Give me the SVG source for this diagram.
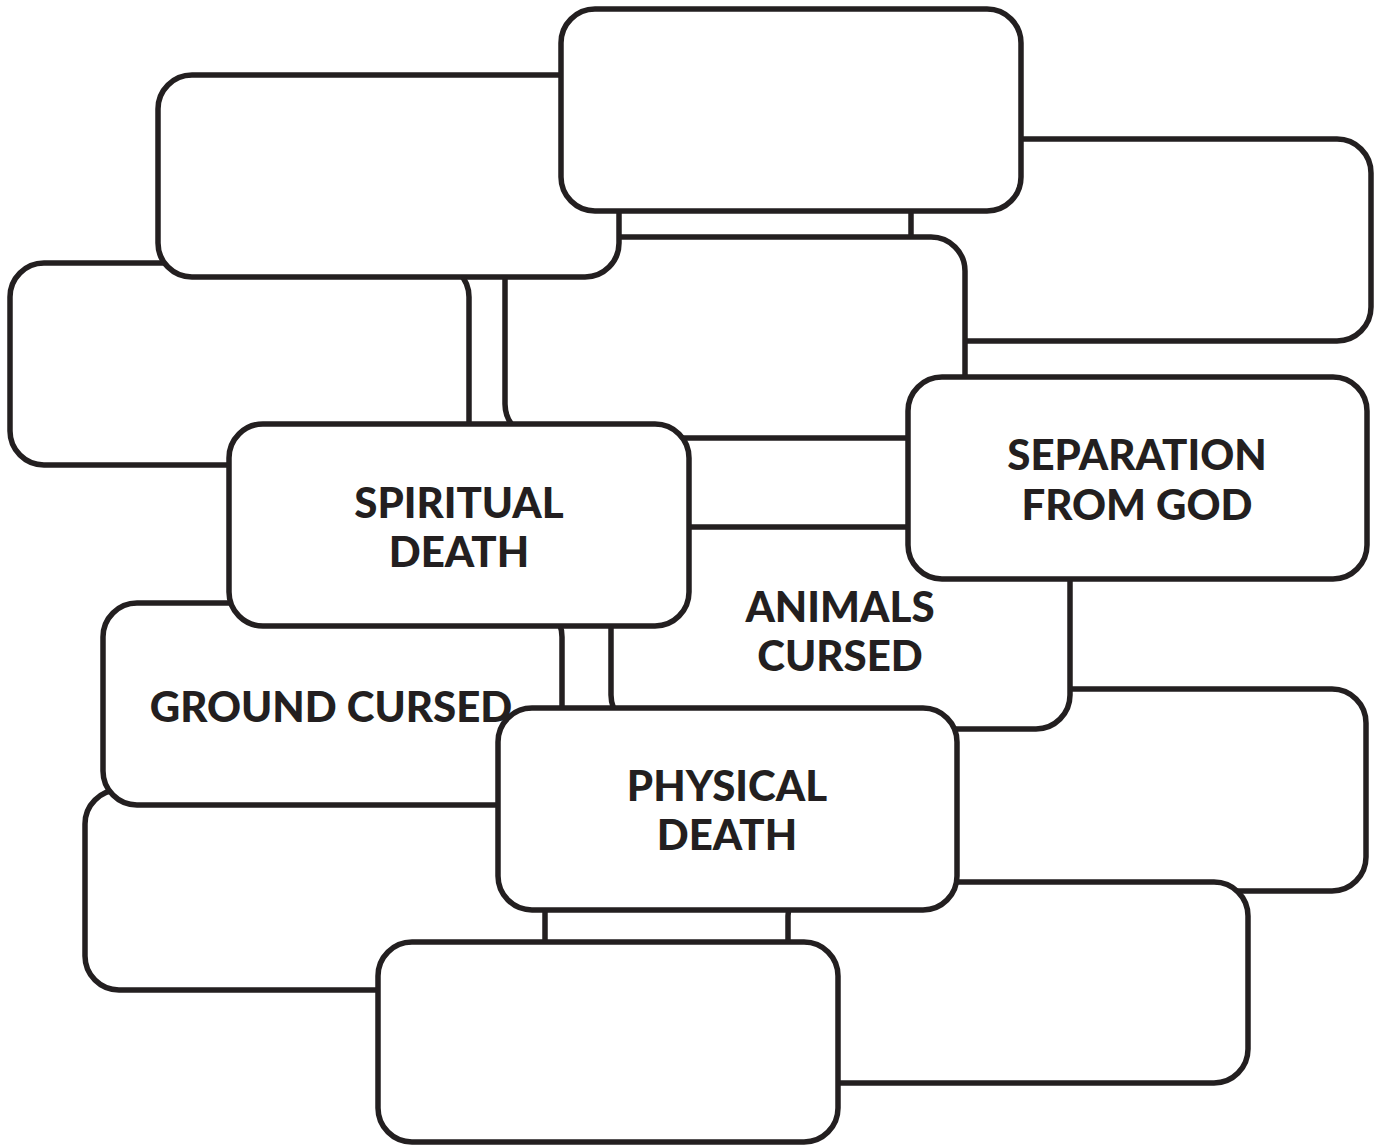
<svg xmlns="http://www.w3.org/2000/svg" width="1383" height="1145" viewBox="0 0 1383 1145">
<style>
.box{fill:#ffffff;stroke:#231f20;stroke-width:5.5}
.lbl{font-family:Lato,"Liberation Sans",sans-serif;font-weight:900;font-size:42px;fill:#231f20;text-anchor:middle}
</style>
<rect width="1383" height="1145" fill="#ffffff"/>
<g id="connectors"></g>
<g id="node-j"><rect class="box" x="911" y="139" width="460" height="202" rx="34"/></g>
<g id="node-c"><rect class="box" x="505" y="237" width="460" height="201" rx="34"/></g>
<g id="node-i"><rect class="box" x="10" y="263" width="459" height="202" rx="34"/></g>
<g id="node-b"><rect class="box" x="158" y="75" width="461" height="202" rx="34"/></g>
<g id="node-a"><rect class="box" x="561" y="9" width="460" height="202" rx="34"/></g>
<g id="node-n"><rect class="box" x="907" y="689" width="459" height="202" rx="34"/></g>
<g id="node-animals-cursed"><rect class="box" x="611" y="527" width="459" height="202" rx="34"/>
<text class="lbl" x="840" y="622">ANIMALS</text><text class="lbl" x="840" y="671">CURSED</text></g>
<g id="node-separation"><rect class="box" x="908" y="377" width="459" height="202" rx="34"/>
<text class="lbl" x="1137" y="470">SEPARATION</text><text class="lbl" x="1137" y="520">FROM GOD</text></g>
<g id="node-k"><rect class="box" x="85" y="790" width="460" height="200" rx="34"/></g>
<g id="node-ground-cursed"><rect class="box" x="103" y="603" width="459" height="202" rx="34"/></g>
<g id="node-spiritual-death"><rect class="box" x="229" y="424" width="460" height="202" rx="34"/>
<text class="lbl" x="459" y="518">SPIRITUAL</text><text class="lbl" x="459" y="567">DEATH</text></g>
<g id="node-m"><rect class="box" x="788" y="882" width="460" height="201" rx="34"/></g>
<g id="node-physical-death"><rect class="box" x="498" y="708" width="459" height="202" rx="34"/>
<text class="lbl" x="727" y="801">PHYSICAL</text><text class="lbl" x="727" y="850">DEATH</text></g>
<g id="node-l"><rect class="box" x="378" y="942" width="460" height="200" rx="34"/></g>
<g id="label-ground-cursed"><text class="lbl" x="331" y="722">GROUND CURSED</text></g>
</svg>
